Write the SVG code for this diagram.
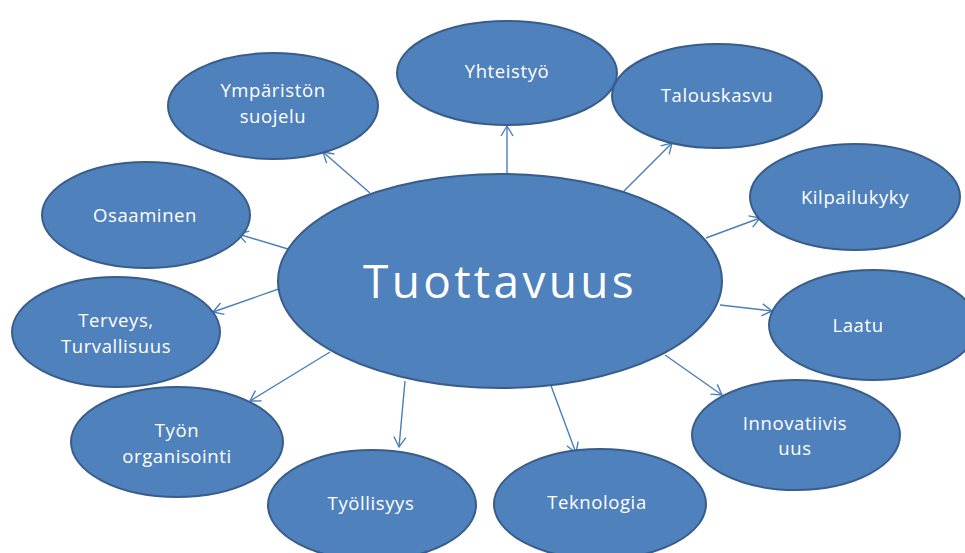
<svg xmlns="http://www.w3.org/2000/svg" width="965" height="553" viewBox="0 0 965 553">
<style>
.n{fill:#4f81bd;stroke:#385d8a;stroke-width:2}
.t{fill:#fff;font-family:"Open Sans","Liberation Sans",sans-serif;font-size:18.5px;text-anchor:middle;letter-spacing:0.6px}
.c{stroke:#4a7ebb;stroke-width:1.4;fill:none;marker-end:url(#ah)}
</style>
<defs>
<marker id="ah" markerUnits="userSpaceOnUse" markerWidth="14" markerHeight="14" refX="11" refY="7" orient="auto" viewBox="0 0 14 14">
<path d="M1,1 L11,7 L1,13" fill="none" stroke="#4a7ebb" stroke-width="1.4"/>
</marker>
</defs>
<rect width="965" height="553" fill="#fff"/>
<g id="connectors">
<line class="c" x1="507" y1="175" x2="507" y2="126"/>
<line class="c" x1="370" y1="193" x2="323" y2="152"/>
<line class="c" x1="624" y1="191" x2="672" y2="143"/>
<line class="c" x1="706" y1="238" x2="760" y2="218"/>
<line class="c" x1="288" y1="249" x2="238" y2="234"/>
<line class="c" x1="720" y1="305" x2="772" y2="311"/>
<line class="c" x1="665" y1="355" x2="722" y2="395"/>
<line class="c" x1="550" y1="383" x2="576" y2="453"/>
<line class="c" x1="405" y1="381" x2="399" y2="447"/>
<line class="c" x1="330" y1="352" x2="250" y2="401"/>
<line class="c" x1="290" y1="285" x2="213" y2="312"/>
</g>
<g id="yhteistyo"><ellipse class="n" cx="507" cy="73" rx="110" ry="52"/><text class="t" x="507" y="78">Yhteistyö</text></g>
<g id="ymparisto"><ellipse class="n" cx="273" cy="106" rx="105" ry="53"/><text class="t" x="273" y="97">Ympäristön</text><text class="t" x="273" y="123">suojelu</text></g>
<g id="talouskasvu"><ellipse class="n" cx="717" cy="96" rx="105" ry="52"/><text class="t" x="717" y="102">Talouskasvu</text></g>
<g id="kilpailukyky"><ellipse class="n" cx="855" cy="197" rx="105" ry="53"/><text class="t" x="855" y="204">Kilpailukyky</text></g>
<g id="osaaminen"><ellipse class="n" cx="146" cy="215" rx="104" ry="53"/><text class="t" x="145" y="222">Osaaminen</text></g>
<g id="terveys"><ellipse class="n" cx="116" cy="332" rx="104" ry="55"/><text class="t" x="116" y="327">Terveys,</text><text class="t" x="116" y="353">Turvallisuus</text></g>
<g id="laatu"><ellipse class="n" cx="873" cy="325" rx="104" ry="55"/><text class="t" x="858" y="332">Laatu</text></g>
<g id="innovatiivisuus"><ellipse class="n" cx="796" cy="435" rx="104" ry="55"/><text class="t" x="795" y="430">Innovatiivis</text><text class="t" x="795" y="455">uus</text></g>
<g id="tyon-organisointi"><ellipse class="n" cx="177" cy="442" rx="106" ry="55"/><text class="t" x="177" y="437">Työn</text><text class="t" x="177" y="463">organisointi</text></g>
<g id="tyollisyys"><ellipse class="n" cx="372" cy="505" rx="104" ry="55"/><text class="t" x="371" y="510">Työllisyys</text></g>
<g id="teknologia"><ellipse class="n" cx="600" cy="504" rx="106" ry="55"/><text class="t" x="597" y="509">Teknologia</text></g>
<g id="tuottavuus"><ellipse class="n" cx="500" cy="281" rx="222" ry="107"/><text class="t" x="500" y="298" style="font-size:46px;letter-spacing:3.3px">Tuottavuus</text></g>
</svg>
